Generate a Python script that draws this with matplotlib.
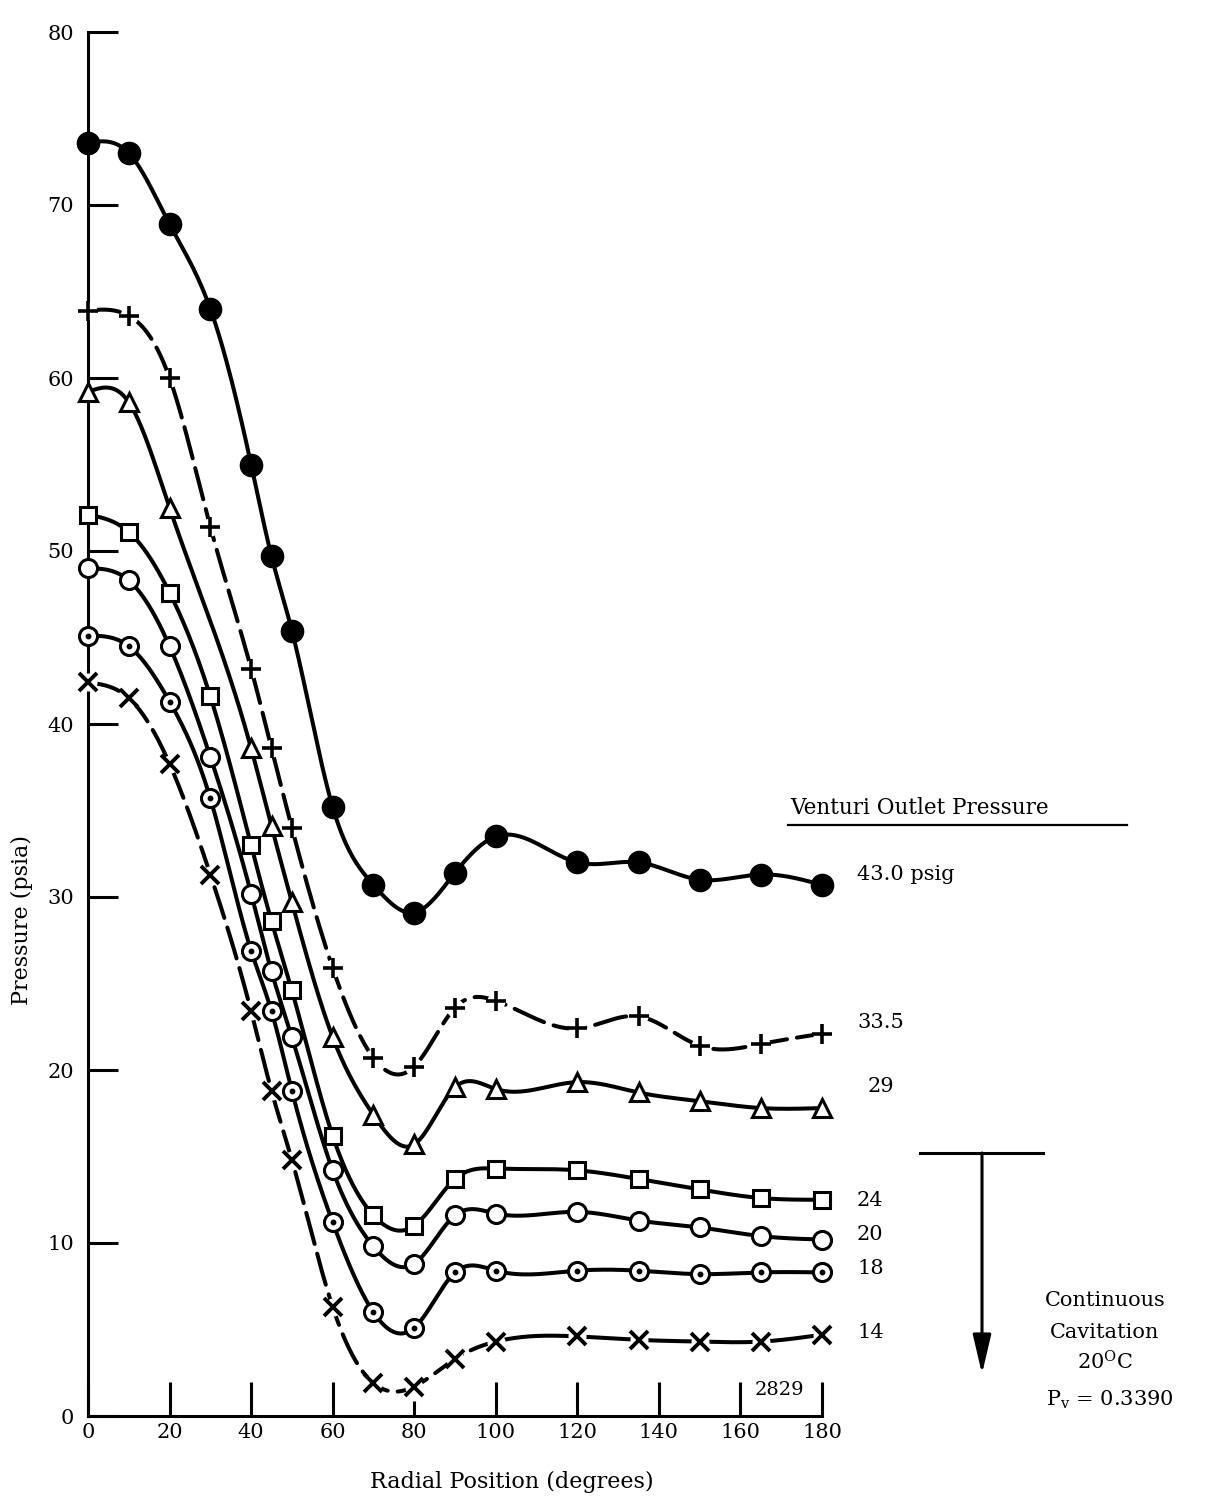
import numpy as np
import matplotlib
matplotlib.use("Agg")
import matplotlib.pyplot as plt
from matplotlib.lines import Line2D

plt.rcParams["font.family"] = ["DejaVu Serif"]
plt.rcParams["mathtext.fontset"] = "dejavuserif"

# Radial measuring stations (degrees)
deg = [0, 10, 20, 30, 40, 45, 50, 60, 70, 80, 90, 100, 120, 135, 150, 165, 180]
deg_29 = [0, 10, 20, 40, 45, 50, 60, 70, 80, 90, 100, 120, 135, 150, 165, 180]

# Wall pressure (psia) for each venturi outlet pressure
p_430 = [73.6, 73.0, 68.9, 64.0, 55.0, 49.7, 45.4, 35.2, 30.7, 29.1, 31.4, 33.5, 32.0, 32.0, 31.0, 31.3, 30.7]
p_335 = [63.9, 63.6, 60.0, 51.4, 43.2, 38.6, 34.0, 25.9, 20.7, 20.2, 23.6, 24.0, 22.4, 23.1, 21.4, 21.5, 22.1]
p_29 = [59.2, 58.6, 52.5, 38.6, 34.1, 29.7, 21.9, 17.4, 15.7, 19.0, 18.9, 19.3, 18.7, 18.2, 17.8, 17.8]
p_24 = [52.1, 51.1, 47.6, 41.6, 33.0, 28.6, 24.6, 16.2, 11.6, 11.0, 13.7, 14.3, 14.2, 13.7, 13.1, 12.6, 12.5]
p_20 = [49.0, 48.3, 44.5, 38.1, 30.2, 25.7, 21.9, 14.2, 9.8, 8.8, 11.6, 11.7, 11.8, 11.3, 10.9, 10.4, 10.2]
p_18 = [45.1, 44.5, 41.3, 35.7, 26.9, 23.4, 18.8, 11.2, 6.0, 5.1, 8.3, 8.4, 8.4, 8.4, 8.2, 8.3, 8.3]
p_14 = [42.4, 41.5, 37.7, 31.3, 23.4, 18.8, 14.8, 6.3, 1.9, 1.7, 3.3, 4.3, 4.6, 4.4, 4.3, 4.3, 4.7]

outlet_labels = ["43.0 psig", "33.5", "29", "24", "20", "18", "14"]

x_ticks = [0, 20, 40, 60, 100, 120, 140, 160, 180]
x_short_tick = [80]
y_ticks = [0, 10, 20, 30, 40, 50, 60, 70, 80]

W, H = 1214, 1499


def fx(px):
    return px / W


def fy(py):
    return 1 - py / H


def smooth(x, y, n=600):
    """Natural cubic spline through the measured points."""
    x = np.asarray(x, float)
    y = np.asarray(y, float)
    k = len(x)
    h = np.diff(x)
    A = np.zeros((k, k))
    r = np.zeros(k)
    A[0, 0] = A[-1, -1] = 1.0
    for i in range(1, k - 1):
        A[i, i - 1] = h[i - 1]
        A[i, i] = 2 * (h[i - 1] + h[i])
        A[i, i + 1] = h[i]
        r[i] = 6 * ((y[i + 1] - y[i]) / h[i] - (y[i] - y[i - 1]) / h[i - 1])
    M = np.linalg.solve(A, r)
    xs = np.linspace(x[0], x[-1], n)
    i = np.clip(np.searchsorted(x, xs, side="right") - 1, 0, k - 2)
    hi = h[i]
    a = x[i + 1] - xs
    b = xs - x[i]
    ys = (M[i] * a**3 / (6 * hi) + M[i + 1] * b**3 / (6 * hi)
          + (y[i] / hi - M[i] * hi / 6) * a + (y[i + 1] / hi - M[i + 1] * hi / 6) * b)
    return xs, ys


fig = plt.figure(figsize=(W / 100, H / 100), dpi=100)
ax = fig.add_axes([fx(88), fy(1416), fx(822) - fx(88), fy(32) - fy(1416)])
ax.set_xlim(0, 180)
ax.set_ylim(0, 80)

LW = 2.9
MEW = 2.2
dash = (8, 2.5)

# (x, y, marker style, dashed up to this angle, white gap under marker, centre dot)
series = [
    (deg, p_430, dict(marker="o", ms=16, mfc="black", mec="black"), None, False, False),
    (deg, p_335, dict(marker="+", ms=15, mew=2.6, mec="black"), 180, True, False),
    (deg_29, p_29, dict(marker="^", ms=13, mfc="white", mec="black", mew=MEW), None, False, False),
    (deg, p_24, dict(marker="s", ms=11, mfc="white", mec="black", mew=MEW), None, False, False),
    (deg, p_20, dict(marker="o", ms=13, mfc="white", mec="black", mew=MEW), None, False, False),
    (deg, p_18, dict(marker="o", ms=13, mfc="white", mec="black", mew=MEW), None, False, True),
    (deg, p_14, dict(marker="x", ms=13, mew=2.8, mec="black"), 100, True, False),
]

for xv, yv, mk, dash_to, halo, dot in series:
    xs, ys = smooth(xv, yv)
    if dash_to is None:
        ax.plot(xs, ys, color="black", lw=LW, solid_capstyle="round",
                clip_on=False, zorder=3)
    else:
        part = xs <= dash_to
        ln, = ax.plot(xs[part], ys[part], color="black", lw=LW, clip_on=False,
                      zorder=3, dash_capstyle="round")
        ln.set_dashes(dash)
        rest = xs >= dash_to
        if rest.sum() > 1:
            ax.plot(xs[rest], ys[rest], color="black", lw=LW, clip_on=False,
                    solid_capstyle="round", zorder=3)
    if halo:
        ax.plot(xv, yv, linestyle="none", marker="o", ms=12, mfc="white",
                mec="white", clip_on=False, zorder=4)
    ax.plot(xv, yv, linestyle="none", clip_on=False, zorder=5, **mk)
    if dot:
        ax.plot(xv, yv, linestyle="none", marker="o", ms=3.2, mfc="black",
                mec="black", clip_on=False, zorder=6)

# Axes frame: only left and bottom, ticks pointing inward
for s in ["top", "right"]:
    ax.spines[s].set_visible(False)
for s in ["left", "bottom"]:
    ax.spines[s].set_linewidth(2.2)
    ax.spines[s].set_zorder(2)

ax.set_xticks(x_ticks)
ax.set_xticks(x_short_tick, labels=[str(v) for v in x_short_tick], minor=True)
ax.set_yticks(y_ticks)
ax.tick_params(axis="x", which="major", direction="in", length=24.5, width=2.2,
               labelsize=15, pad=5)
ax.tick_params(axis="x", which="minor", direction="in", length=11, width=2.2,
               labelsize=15, pad=5)
ax.tick_params(axis="y", which="major", direction="in", length=21.5, width=2.2,
               labelsize=15, pad=10)

# Axis titles
fig.text(fx(512), fy(1482), "Radial Position (degrees)", ha="center", va="center",
         fontsize=16)
fig.text(fx(22), fy(920), "Pressure (psia)", ha="center", va="center",
         rotation=90, fontsize=16)

# Legend heading and curve labels
fig.text(fx(790), fy(808), "Venturi Outlet Pressure", ha="left", va="center",
         fontsize=15.5)
fig.add_artist(Line2D([fx(788), fx(1127)], [fy(825), fy(825)], color="black",
                      lw=1.6))
label_pos = [(857, 875), (857, 1022), (868, 1086), (857, 1201),
             (857, 1235), (857, 1268), (857, 1333)]
for txt, (px, py) in zip(outlet_labels, label_pos):
    fig.text(fx(px), fy(py), txt, ha="left", va="center", fontsize=15)

# Continuous-cavitation bracket and arrow
fig.add_artist(Line2D([fx(920), fx(1043)], [fy(1153), fy(1153)], color="black",
                      lw=2.2))
ax.annotate("", xy=(fx(982), fy(1374)), xycoords="figure fraction",
            xytext=(fx(982), fy(1153)), textcoords="figure fraction",
            arrowprops=dict(arrowstyle="-|>,head_length=1.2,head_width=0.28",
                            color="black", lw=2.2, shrinkA=0, shrinkB=0,
                            mutation_scale=20))

fig.text(fx(1105), fy(1300), "Continuous", ha="center", va="center", fontsize=15)
fig.text(fx(1105), fy(1333), "Cavitation", ha="center", va="center", fontsize=15)
fig.text(fx(1105), fy(1362), r"20$^{\mathrm{O}}$C", ha="center", va="center",
         fontsize=15)
fig.text(fx(1110), fy(1400), r"P$_{\mathrm{v}}$ = 0.3390", ha="center",
         va="center", fontsize=15)

fig.text(fx(780), fy(1390), "2829", ha="center", va="center", fontsize=14)

fig.savefig("out.png", dpi=100, facecolor="white")
